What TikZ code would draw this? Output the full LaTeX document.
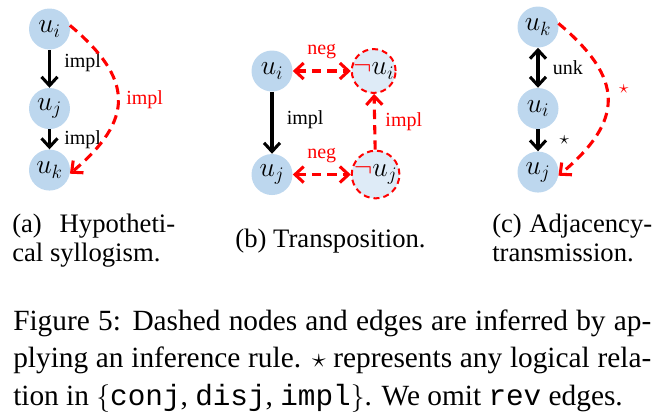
\documentclass[tikz,border=0pt]{standalone}
\usepackage{fontspec}
\setmainfont{Liberation Serif}
\setmonofont{Liberation Mono}
\usepackage{xcolor}
\usepackage{tikz}
\usetikzlibrary{arrows.meta, positioning}
\definecolor{nodeBlue}{RGB}{189, 215, 238}
\definecolor{inferBlue}{RGB}{222, 235, 247}
\definecolor{inferRed}{RGB}{255, 0, 0}

\begin{document}
\begin{tikzpicture}[
    x=0.75pt, y=0.75pt,
    >={Straight Barb[length=6.5pt, width=12pt]},
    unode/.style={circle, fill=nodeBlue, minimum size=30.75pt, inner sep=0pt, font=\fontsize{21pt}{21pt}\selectfont},
    inode/.style={unode, fill=inferBlue, draw=inferRed, line width=1.5pt, dash pattern=on 4.5pt off 3pt},
    rel/.style={draw=black, line width=2.3pt},
    inferred/.style={draw=inferRed, line width=2.3pt, dash pattern=on 7pt off 4.5pt},
    lbl/.style={font=\fontsize{15pt}{15pt}\selectfont, inner sep=1pt},
    ilbl/.style={lbl, text=inferRed},
    subcap/.style={font=\fontsize{20pt}{21.75pt}\selectfont, inner sep=0pt, align=left}
]
\useasboundingbox (0,0) rectangle (666,-418);

% Nodes
\node (ai) [unode] at (49.5,-29) {$u_i$};
\node (aj) [unode, below=28.5pt of ai] {$u_j$};
\node (ak) [unode, below=15pt of aj] {$u_k$};

\node (bi) [unode] at (272,-71) {$u_i$};
\node (bni) [inode, right=43.5pt of bi] {{\color{inferRed}$\neg$}$u_i$};
\node (bj) [unode, below=46.5pt of bi] {$u_j$};
\node (bnj) [inode, right=43.5pt of bj] {{\color{inferRed}$\neg$}$u_j$};

\node (ck) [unode] at (538,-27) {$u_k$};
\node (ci) [unode, below=30pt of ck] {$u_i$};
\node (cj) [unode, below=16.5pt of ci] {$u_j$};

% Connectors
\draw [rel, ->] (ai) -- node[lbl, right=9pt, pos=0.35] {impl} (aj);
\draw [rel, ->] (aj) -- node[lbl, right=9pt] {impl} (ak);
\draw [inferred, ->] (ai.10) to[out=-40, in=40, looseness=1.45] node[ilbl, right=4pt] {impl} (ak.-10);

\draw [rel, ->] (bi) -- node[lbl, right=9pt, pos=0.45] {impl} (bj);
\draw [inferred, <->] (bi) -- node[ilbl, above=7pt] {neg} (bni);
\draw [inferred, <->] (bj) -- node[ilbl, above=7pt] {neg} (bnj);
\draw [inferred, ->] (bnj) -- node[ilbl, right=6pt] {impl} (bni);

\draw [rel, <->] (ck) -- node[lbl, right=9pt] {unk} (ci);
\draw [rel, ->] (ci) -- node[lbl, right=14pt] {$\star$} (cj);
\draw [inferred, ->] (ck.10) to[out=-40, in=40, looseness=1.45] node[ilbl, right=7pt, pos=0.43] {$\star$} (cj.-10);

% Captions
\node (capa) [subcap, anchor=base west] at (12,-261) {\hbox to 122.25pt{(a) Hypotheti-}\\cal syllogism.};
\node (capb) [subcap, anchor=base] at (330.5,-247) {(b) Transposition.};
\node (capc) [subcap, anchor=base west] at (492,-261) {\hbox to 120pt{(c) Adjacency-}\\transmission.};
\node (fig) [font=\fontsize{22pt}{28pt}\selectfont, inner sep=0pt, align=left, anchor=base west] at (13,-405)
  {\hbox to 478.5pt{Figure 5: Dashed nodes and edges are inferred by ap-}\\
   \hbox to 478.5pt{plying an inference rule. $\star$ represents any logical rela-}\\
   tion in $\{$\texttt{conj}, \texttt{disj}, \texttt{impl}$\}$. We omit \texttt{rev} edges.};
\end{tikzpicture}
\end{document}
